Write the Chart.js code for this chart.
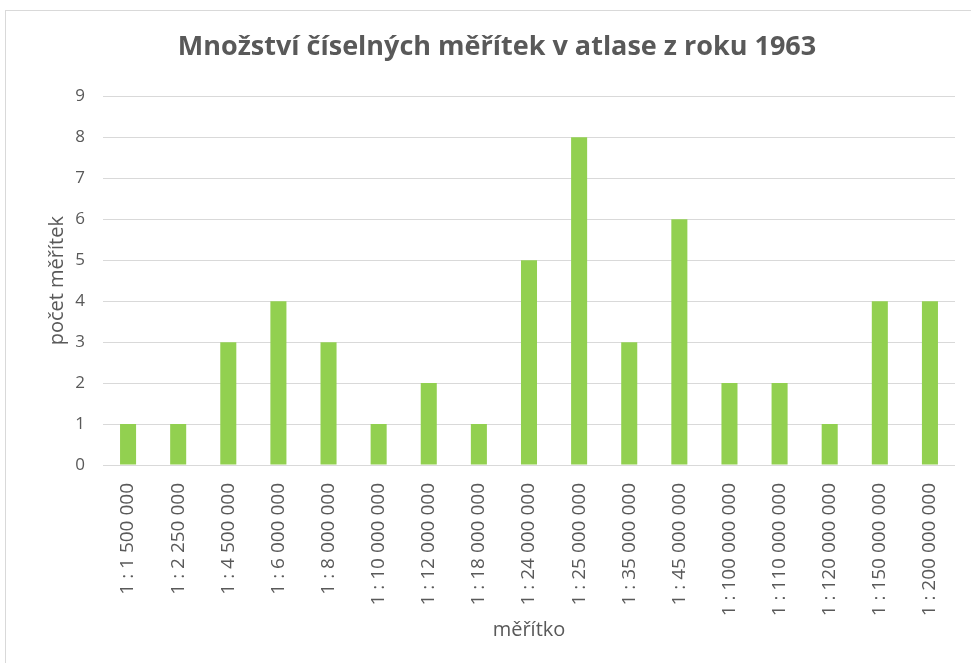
<!DOCTYPE html>
<html>
<head>
<meta charset="utf-8">
<script src="https://cdn.jsdelivr.net/npm/chart.js@4/dist/chart.umd.min.js"></script>
<style>
    html, body { margin: 0; padding: 0; background: #fff; overflow: hidden; }
    #frame { position: absolute; left: 5px; top: 10px; width: 990px; height: 680px; border: 1px solid #d9d9d9; }
    #wrap { position: absolute; left: 0; top: 0; width: 971px; height: 663px; }
</style>
</head>
<body>
<div id="frame"></div>
<div id="wrap"><canvas id="scaleChart"></canvas></div>
<script>
    const categories = [
        "1 : 1 500 000", "1 : 2 250 000", "1 : 4 500 000", "1 : 6 000 000", "1 : 8 000 000",
        "1 : 10 000 000", "1 : 12 000 000", "1 : 18 000 000", "1 : 24 000 000", "1 : 25 000 000",
        "1 : 35 000 000", "1 : 45 000 000", "1 : 100 000 000", "1 : 110 000 000", "1 : 120 000 000",
        "1 : 150 000 000", "1 : 200 000 000"
    ];
    const counts = [1, 1, 3, 4, 3, 1, 2, 1, 5, 8, 3, 6, 2, 2, 1, 4, 4];
    const yTicks = [0, 1, 2, 3, 4, 5, 6, 7, 8, 9];

    const textColor = "#595959";
    const fontFamily = "'Open Sans', 'Liberation Sans', sans-serif";

    const ctx = document.getElementById("scaleChart").getContext("2d");
    new Chart(ctx, {
        type: "bar",
        data: {
            labels: categories,
            datasets: [{
                label: "počet měřítek",
                data: counts,
                backgroundColor: "#92D050",
                barPercentage: 0.64,
                categoryPercentage: 0.5,
            }],
        },
        options: {
            responsive: true,
            maintainAspectRatio: false,
            animation: false,
            // left padding shifts the title centre to the right like in the original
            layout: { padding: { left: 39, right: 16, top: 0, bottom: 0 } },
            plugins: {
                legend: { display: false },
                tooltip: { enabled: false },
                title: {
                    display: true,
                    text: "Množství číselných měřítek v atlase z roku 1963",
                    color: textColor,
                    font: { family: fontFamily, size: 27, weight: "bold" },
                    padding: { top: 31, bottom: 33 },
                },
            },
            scales: {
                x: {
                    afterFit: (scale) => { scale.height = 198; },
                    grid: { display: false },
                    border: { display: false },
                    ticks: {
                        color: textColor,
                        font: { family: fontFamily, size: 19 },
                        maxRotation: 90,
                        minRotation: 90,
                        autoSkip: false,
                        padding: 10,
                    },
                    title: {
                        display: true,
                        text: "měřítko",
                        color: textColor,
                        font: { family: fontFamily, size: 20 },
                        padding: { top: 4, bottom: 21 },
                    },
                },
                y: {
                    min: 0,
                    max: 9,
                    afterBuildTicks: (axis) => { axis.ticks = yTicks.map(v => ({ value: v })); },
                    afterFit: (scale) => { scale.width = 64; },
                    grid: { color: "#d9d9d9", lineWidth: 1, drawTicks: false },
                    border: { display: false },
                    ticks: {
                        color: textColor,
                        font: { family: fontFamily, size: 17 },
                        padding: 18,
                    },
                    title: {
                        display: true,
                        text: "počet měřítek",
                        color: textColor,
                        font: { family: fontFamily, size: 20 },
                        padding: { top: 6, bottom: 4 },
                    },
                },
            },
        },
    });
</script>
</body>
</html>
